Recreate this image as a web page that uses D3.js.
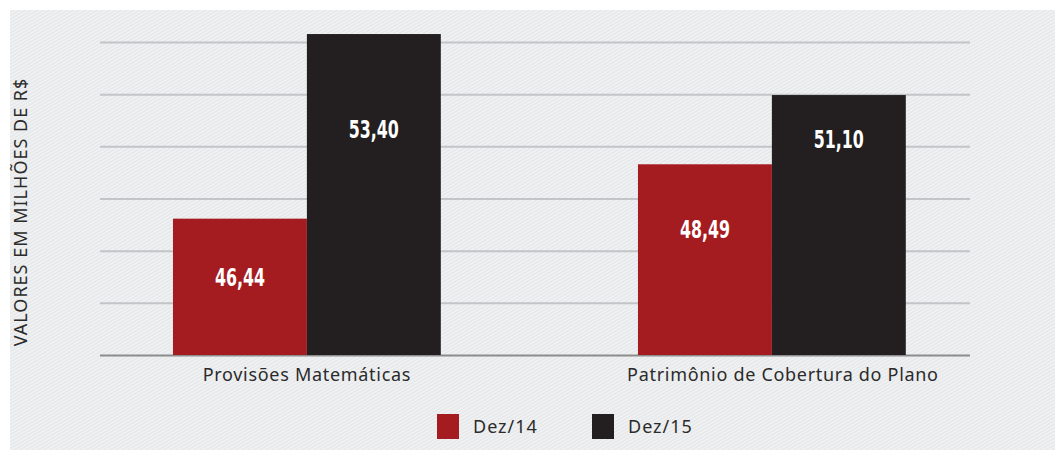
<!DOCTYPE html>
<html>
<head>
<meta charset="utf-8">
<script src="https://cdn.jsdelivr.net/npm/d3@7"></script>
<style>
  html, body { margin: 0; padding: 0; background: #ffffff; }
  svg { display: block; }
</style>
</head>
<body>
<div id="chart"></div>
<script>
// DATA
const categories = ["Provisões Matemáticas", "Patrimônio de Cobertura do Plano"];
const seriesNames = ["Dez/14", "Dez/15"];
const dez14 = [46.44, 48.49];
const dez15 = [53.40, 51.10];
const valueLabels14 = ["46,44", "48,49"];
const valueLabels15 = ["53,40", "51,10"];
const yDomain = [41.3, 53.1];
const gridCount = 6;
const yTitle = "VALORES EM MILHÕES DE R$";

// LAYOUT
const width = 1055;
const height = 450;
const plot = { left: 100, right: 970, top: 42, bottom: 355 };
const colors = { "Dez/14": "#a51c20", "Dez/15": "#231f20" };
const textColor = "#2b2b2b";
// where the value label sits inside each bar (fraction of bar height from its top)
const labelFrac = { "Dez/14": [0.43, 0.34], "Dez/15": [0.295, 0.17] };

const rows = categories.map((c, i) => ({
    category: c,
    values: [
        { series: "Dez/14", value: dez14[i], label: valueLabels14[i], idx: i },
        { series: "Dez/15", value: dez15[i], label: valueLabels15[i], idx: i }
    ]
}));

// SVG
const svg = d3.select("#chart")
    .append("svg")
    .attr("width", width)
    .attr("height", height);

// hatched background
const defs = svg.append("defs");
const pat = defs.append("pattern")
    .attr("id", "hatch")
    .attr("patternUnits", "userSpaceOnUse")
    .attr("width", 3)
    .attr("height", 3)
    .attr("patternTransform", "rotate(-30)");
pat.append("rect").attr("width", 3).attr("height", 3).attr("fill", "#f1f2f3");
pat.append("rect").attr("width", 3).attr("height", 1.2).attr("fill", "#e4e5e7");

svg.append("rect")
    .attr("x", 10)
    .attr("y", 10)
    .attr("width", width - 10)
    .attr("height", height - 10)
    .attr("fill", "url(#hatch)");

// SCALES
const xScale = d3.scaleBand()
    .domain(categories)
    .range([plot.left, plot.right])
    .paddingInner(0.424)
    .paddingOuter(0.1475)
    .align(0.532);

const xInner = d3.scaleBand()
    .domain(seriesNames)
    .range([0, xScale.bandwidth()])
    .padding(0);

const yScale = d3.scaleLinear()
    .domain(yDomain)
    .range([plot.bottom, plot.top]);

// GRID
const gridValues = d3.range(gridCount + 1)
    .map(i => yDomain[0] + i * (yDomain[1] - yDomain[0]) / gridCount);

const yAxis = d3.axisLeft(yScale)
    .tickValues(gridValues)
    .tickSize(-(plot.right - plot.left))
    .tickFormat("");

const yAxisGroup = svg.append("g")
    .attr("class", "yAxis")
    .attr("transform", `translate(${plot.left},0)`)
    .call(yAxis);

yAxisGroup.select(".domain").remove();
yAxisGroup.selectAll(".tick line")
    .attr("stroke", (d, i) => i === 0 ? "#8c8c8c" : "#c3c4c7")
    .attr("stroke-width", 2);

// BARS
const groups = svg.selectAll(".group")
    .data(rows)
    .join("g")
    .attr("class", "group")
    .attr("transform", d => `translate(${xScale(d.category)},0)`);

groups.selectAll("rect")
    .data(d => d.values)
    .join("rect")
    .attr("x", d => xInner(d.series))
    .attr("y", d => yScale(d.value))
    .attr("width", xInner.bandwidth())
    .attr("height", d => plot.bottom - yScale(d.value))
    .attr("fill", d => colors[d.series]);

// condensed bold labels: squeeze a bold face horizontally
groups.selectAll(".value")
    .data(d => d.values)
    .join("text")
    .attr("class", "value")
    .attr("transform", d => {
        const top = yScale(d.value);
        const cx = xInner(d.series) + xInner.bandwidth() / 2;
        const cy = top + (plot.bottom - top) * labelFrac[d.series][d.idx] + 9;
        return `translate(${cx},${cy}) scale(0.66,1)`;
    })
    .attr("text-anchor", "middle")
    .attr("font-family", "'DejaVu Sans', sans-serif")
    .attr("font-weight", "bold")
    .attr("font-size", 24)
    .attr("fill", "#ffffff")
    .text(d => d.label);

// CATEGORY LABELS
const xAxis = d3.axisBottom(xScale).tickSize(0).tickPadding(13);
const xAxisGroup = svg.append("g")
    .attr("class", "xAxis")
    .attr("transform", `translate(0,${plot.bottom})`)
    .call(xAxis);
xAxisGroup.select(".domain").remove();
xAxisGroup.selectAll("text")
    .attr("font-family", "'Noto Sans', sans-serif")
    .attr("font-size", 18)
    .attr("letter-spacing", 0.7)
    .attr("dx", (d, i) => i === 1 ? 11 : 0)
    .attr("fill", textColor);

// Y TITLE
svg.append("text")
    .attr("transform", `translate(27,${212}) rotate(-90)`)
    .attr("text-anchor", "middle")
    .attr("font-family", "'Noto Sans', sans-serif")
    .attr("font-size", 18)
    .attr("letter-spacing", 1)
    .attr("fill", textColor)
    .text(yTitle);

// LEGEND
const legend = svg.append("g")
    .attr("transform", "translate(437,414)");

const legendItems = legend.selectAll(".item")
    .data(seriesNames)
    .join("g")
    .attr("class", "item")
    .attr("transform", (d, i) => `translate(${i * 155},0)`);

legendItems.append("rect")
    .attr("width", 22)
    .attr("height", 25)
    .attr("fill", d => colors[d]);

legendItems.append("text")
    .attr("x", 36)
    .attr("y", 19)
    .attr("font-family", "'Noto Sans', sans-serif")
    .attr("font-size", 18)
    .attr("letter-spacing", 1)
    .attr("fill", textColor)
    .text(d => d);
</script>
</body>
</html>
